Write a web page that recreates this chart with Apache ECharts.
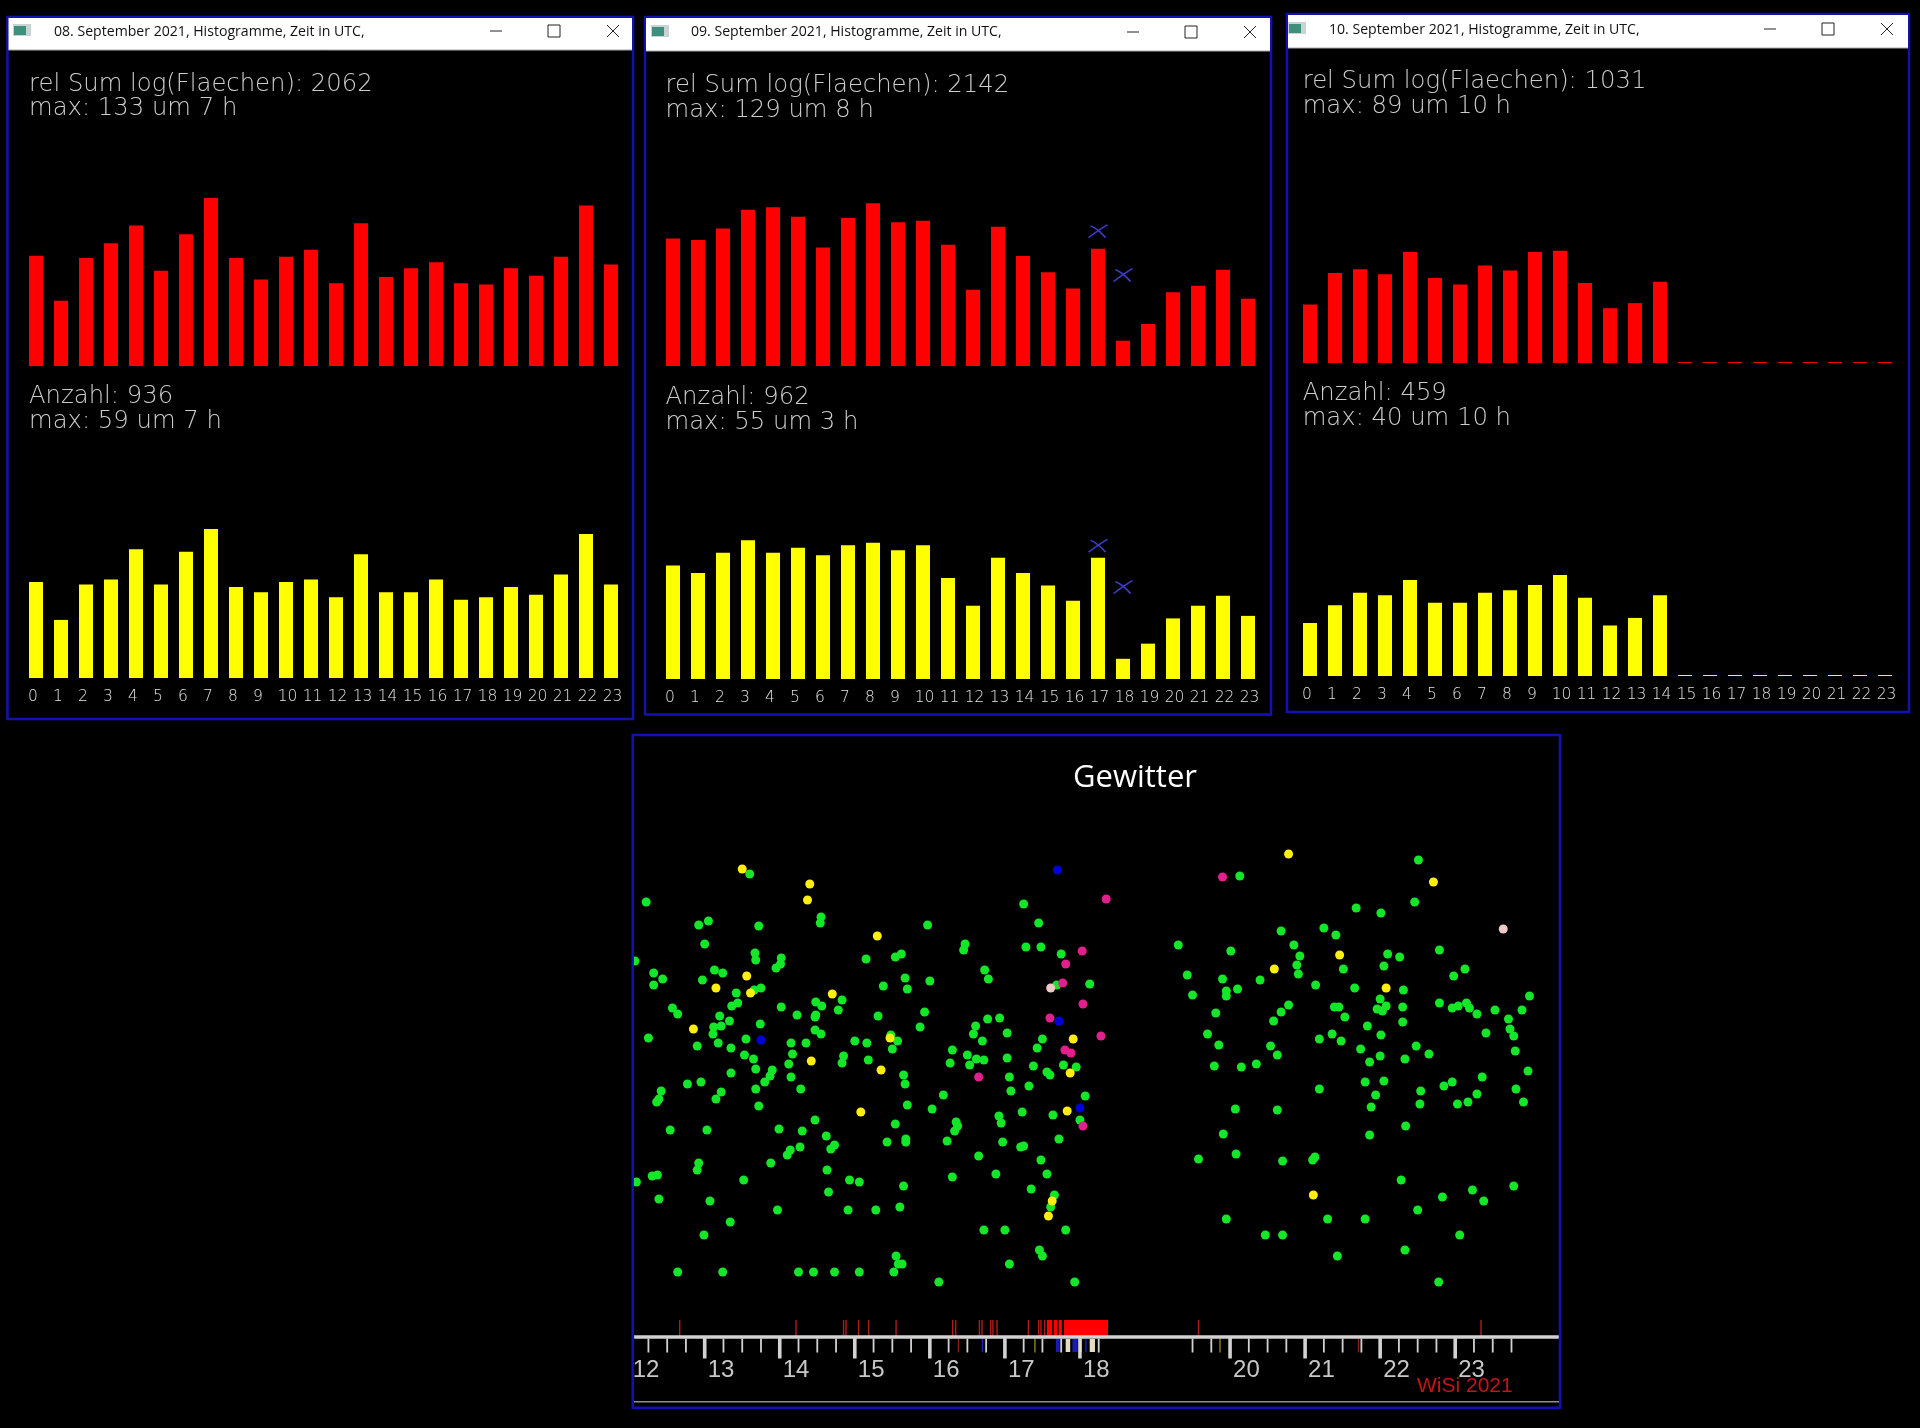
<!DOCTYPE html>
<html><head><meta charset="utf-8">
<style>html,body{margin:0;padding:0;background:#000}#c{width:1920px;height:1428px}</style>
<script src="https://cdn.jsdelivr.net/npm/echarts@6/dist/echarts.min.js"></script>
</head><body><div id="c"></div>
<script>
// ---------- histogram data ----------
const hours = ['0','1','2','3','4','5','6','7','8','9','10','11','12','13','14','15','16','17','18','19','20','21','22','23'];
const day08Flaechen = [87.3,51.6,85.5,97.3,111.3,75.5,104.3,133,85.5,68.5,86.6,92.1,65.6,113.1,70.4,77.4,82.2,65.6,64.5,77.4,71.5,86.6,127.1,80.3];
const day08Anzahl = [38,23,37,39,51,37,50,59,36,34,38,39,32,49,34,34,39,31,32,36,33,41,57,37];
const day09Flaechen = [100.9,99.8,109,123.8,125.7,118.3,93.9,117.2,129,113.9,115,96.1,60.3,110.2,87.2,74.3,61.4,92.8,20,33.3,58.4,63.6,76.2,53.2];
const day09Anzahl = [45,42,50,55,50,52,49,53,54,51,53,40,29,48,42,37,31,48,8,14,24,29,33,25];
const day09FlaechenCross = [[17,106.8],[18,72]];
const day09AnzahlCross = [[17,52.8],[18,36.4]];
const day10Flaechen = [46.3,71.3,74.3,70.2,87.9,67.3,62.2,77.2,73.2,87.9,89,63.3,43.4,47.4,64.4,0,0,0,0,0,0,0,0,0];
const day10Anzahl = [21,28,33,32,38,29,29,33,34,36,40,31,20,23,32,0,0,0,0,0,0,0,0,0];

// ---------- Gewitter scatter data: [hour UTC, level] ----------
const gewitterGreen = [
[12.22,435],[13.60,463],[12.92,412],[13.05,416],[13.72,411],[13.00,393],[13.67,384],[13.68,377],[14.02,379],[14.01,373],[13.95,369],[12.07,376],[12.32,364],[12.44,358],[12.32,352],[13.13,367],[13.24,364],[12.97,357],[13.75,349],[13.66,347],[13.42,344],[13.44,334],[13.36,331],[12.57,329],[12.64,323],[13.20,321],[13.33,316],[13.12,310],[13.22,311],[13.11,303],[13.74,313],[12.25,299],[12.90,291],[13.18,294],[13.35,289],[13.55,298],[13.53,282],[13.65,278],[14.15,294],[14.17,283],[14.02,330],[14.23,322],[14.48,335],[14.56,331],[14.83,337],[14.78,327],[14.48,322],[14.47,320],[14.47,307],[14.55,303],[14.35,294],[14.85,281],[14.55,420],[14.54,414],[15.15,378],[15.54,380],[15.62,383],[15.97,412],[15.67,359],[15.38,351],[15.70,348],[16.00,356],[15.31,321],[15.93,325],[15.87,310],[15.00,296],[15.16,294],[15.48,302],[15.57,296],[15.50,288],[16.47,393],[16.45,387],[16.73,367],[16.78,358],[17.25,433],[17.45,414],[17.28,390],[17.48,390],[17.75,383],[18.13,353],[17.69,352],[16.77,318],[16.93,319],[16.61,311],[16.58,303],[16.70,296],[17.03,304],[16.30,287],[16.50,282],[16.62,278],[17.03,279],[17.50,298],[17.43,289],
[14.12,273],[14.83,274],[15.18,277],[16.27,274],[16.53,272],[16.72,277],[17.38,271],[17.78,272],[17.95,270],[17.56,265],[17.60,262],[13.68,268],[13.90,267],[13.35,264],[13.87,261],[13.80,255],[14.15,260],[13.68,248],[14.28,248],[13.72,231],[12.77,253],[12.95,255],[12.42,246],[12.39,238],[12.36,235],[13.22,245],[13.15,238],[15.65,262],[15.67,253],[15.70,232],[16.03,228],[16.18,242],[17.06,260],[17.08,246],[17.32,251],[17.23,225],[18.07,241],[17.64,222],[18.00,217],[16.92,221],[16.95,214],[12.54,207],[13.03,207],[13.99,208],[14.30,206],[14.47,217],[15.54,213],[16.35,215],[16.37,211],[16.33,206],[16.23,196],[15.43,195],[15.68,198],[15.68,195],[16.97,195],[17.25,191],[17.21,190],[17.72,198],[14.62,201],[14.73,192],[14.68,188],[14.27,190],[14.14,187],[14.10,182],[13.88,174],[12.92,174],[12.90,167],[14.63,167],[16.65,181],[17.48,177],[16.88,163],[17.56,163],[16.30,160],[12.09,155],[12.30,161],[12.37,162],[13.52,157],[14.93,157],[15.06,155],[15.65,151],[17.35,148],[14.65,145],[17.66,142],[17.61,130],[12.39,138],[13.07,136],[13.97,127],[14.91,127],[15.28,127],[15.60,130],[13.34,115],[12.99,102],[16.72,107],[17.00,107],[17.81,107],[17.46,87],[17.50,81],[17.06,73],[15.55,81],[15.58,73],[15.63,73],[12.64,65],[13.24,65],[14.25,65],[14.45,65],[14.73,65],[15.06,65],[15.52,65],[16.12,55],[17.93,55],
[20.13,461],[22.51,477],[21.68,429],[22.01,424],[22.46,435],[19.31,392],[20.01,386],[20.68,406],[21.25,409],[21.41,402],[20.85,392],[20.93,381],[20.89,372],[20.91,363],[19.43,362],[19.90,358],[19.50,342],[19.95,346],[19.95,341],[20.10,348],[20.40,357],[21.14,352],[21.51,368],[22.10,383],[22.26,380],[22.05,371],[21.66,349],[22.31,347],[22.79,387],[23.13,368],[22.98,361],[22.00,338],[22.08,331],[21.96,328],[22.03,326],[22.30,330],[22.30,315],[21.39,330],[21.45,330],[21.53,320],[20.78,332],[20.68,325],[20.58,316],[19.81,324],[19.70,303],[19.85,292],[20.54,291],[20.63,282],[21.83,311],[22.01,302],[21.36,303],[21.48,296],[21.19,298],[21.74,288],[22.00,281],[22.48,291],[22.65,283],[22.33,278],[22.79,334],[22.96,329],[23.04,331],[23.15,334],[23.19,329],[23.29,323],[23.53,327],[23.71,318],[23.89,327],[23.99,341],[23.73,308],[23.78,301],[23.41,304],[23.80,286],
[19.79,271],[20.15,270],[20.35,273],[21.86,275],[23.97,266],[21.19,248],[21.80,255],[22.05,256],[21.94,242],[21.88,230],[22.54,246],[22.53,233],[22.85,251],[22.96,255],[23.36,260],[23.29,243],[23.17,235],[23.03,233],[23.81,248],[23.91,235],[20.07,228],[20.63,227],[19.91,203],[19.58,178],[20.08,183],[20.70,176],[21.10,177],[21.13,180],[21.86,202],[22.34,211],[22.28,157],[23.23,147],[23.78,151],[22.83,140],[23.38,136],[22.50,127],[19.95,118],[21.30,118],[21.80,118],[20.47,102],[20.70,102],[23.06,102],[22.33,87],[21.43,81],[22.78,55]];
const gewitterYellow = [[13.50,468],[14.40,453],[14.37,437],[15.30,401],[13.56,361],[13.15,349],[13.61,344],[14.70,343],[12.85,308],[15.47,299],[17.91,298],[14.42,276],[15.35,267],[17.87,264],[15.08,225],[17.83,226],[17.63,136],[17.58,121],[20.78,483],[22.71,455],[21.46,382],[20.59,368],[22.08,349],[21.11,142]];
const gewitterMagenta = [[18.35,438],[18.03,386],[17.81,373],[17.77,354],[18.04,333],[17.60,319],[18.28,301],[17.80,287],[17.88,284],[16.65,260],[18.04,211],[19.90,460]];
const gewitterBlue = [[17.70,467],[17.72,316],[13.75,297],[18.00,229]];
const gewitterPale = [[17.61,349],[23.64,408]];

// ---------- time strip data (hours UTC) ----------
const hourLabels = [12,13,14,15,16,17,18,20,21,22,23];
const majorTicks = [13,14,15,16,17,18,20,21,22,23];
const minorTicks = [12.25,12.5,12.75,13.25,13.5,13.75,14.25,14.5,14.75,15.25,15.5,15.75,16.25,16.5,16.75,17.25,17.5,17.75,18.25,19.5,19.75,20.25,20.5,20.75,21.25,21.5,21.75,22.25,22.5,22.75,23.25,23.5,23.75];
const redStrokes = [12.667,14.217,14.85,14.883,15.05,15.185,15.55,16.304,16.344,16.66,16.695,16.81,16.84,16.895,17.313,17.45,17.48,17.53,19.58,23.344];
const redSpans = [[17.56,17.63],[17.65,17.695],[17.717,17.76],[17.788,18.374]];
const blueSpans = [[16.69,16.71],[17.68,17.73],[17.90,17.97],[18.07,18.09]];
const paleSpans = [[17.81,17.87],[18.0,18.02],[18.13,18.2]];
const dimYellowTicks = [17.40,19.866];
const dimRedTicks = [16.38,21.71];
const axisSpan = [12.06,24.39];

// ---------- layout ----------
const panels = [
 {date:'08', sum:'2062', sumMax:'max: 133 um 7 h', count:'936', countMax:'max: 59 um 7 h', red:day08Flaechen, yellow:day08Anzahl,
  left:23.5, redBase:366, yelBase:678, box:[7.5,17,633,719], bar:[8.5,18,632,50], tx:29, ty:[84.5,109,396.5,421.5], titleX:54, titleY:31.5, icon:[13,24], win:[490,548,607], winY:31},
 {date:'09', sum:'2142', sumMax:'max: 129 um 8 h', count:'962', countMax:'max: 55 um 3 h', red:day09Flaechen, yellow:day09Anzahl,
  left:660.5, redBase:366, yelBase:679, box:[645,17,1271,714.5], bar:[646,18,1270,51], tx:665.5, ty:[85.5,110.5,397.5,422.5], titleX:691, titleY:32, icon:[651,25], win:[1127,1185,1244], winY:32},
 {date:'10', sum:'1031', sumMax:'max: 89 um 10 h', count:'459', countMax:'max: 40 um 10 h', red:day10Flaechen, yellow:day10Anzahl,
  left:1297.5, redBase:363, yelBase:676, box:[1287,14,1909,712], bar:[1288,15,1908,48], tx:1302.7, ty:[82,107,394,419], titleX:1329, titleY:29.5, icon:[1288,22], win:[1764,1822,1881], winY:29}
];
const H = 202;
const textFont = '200 24.3px "DejaVu Sans"';
const grey = '#cccccc';
const grid=[], xAxis=[], yAxis=[], series=[], graphic=[];

function txt(x,y,text,font,fill,extra){graphic.push({type:'text',z:60,x,y,style:Object.assign({text,font,fill,textVerticalAlign:'middle',textAlign:'left'},extra||{})});}
function rect(x0,y0,x1,y1,style){graphic.push({type:'rect',z:style.z||55,shape:{x:x0,y:y0,width:x1-x0,height:y1-y0},style});}
function line(x0,y0,x1,y1,stroke,w){graphic.push({type:'line',z:60,shape:{x1:x0,y1:y0,x2:x1,y2:y1},style:{stroke,lineWidth:w}});}

panels.forEach((p,i)=>{
  const gi=grid.length;
  grid.push({left:p.left,width:600,top:p.redBase-H,height:H,outerBoundsMode:'none'});
  grid.push({left:p.left,width:600,top:p.yelBase-H,height:H,outerBoundsMode:'none'});
  xAxis.push({gridIndex:gi,type:'category',data:hours,show:false});
  const lab={color:'#e2e2e2',fontFamily:'DejaVu Sans',fontSize:15.5,fontWeight:200};
  xAxis.push({gridIndex:gi+1,type:'category',data:hours,axisLine:{show:false},axisTick:{show:false},
    axisLabel:Object.assign({interval:0,margin:19,verticalAlign:'middle',
      formatter:v=>v.length===1?`{s|${v}}`:`{d|${v}}`,
      rich:{s:Object.assign({padding:[0,6,0,0]},lab),d:Object.assign({padding:[0,0,0,3]},lab)}},lab)});
  yAxis.push({gridIndex:gi,type:'value',min:0,max:160,show:false});
  yAxis.push({gridIndex:gi+1,type:'value',min:0,max:80,show:false});
  series.push({type:'bar',xAxisIndex:gi,yAxisIndex:gi,data:p.red,barWidth:14,barMinHeight:1,itemStyle:{color:'#ff0000'},silent:true});
  series.push({type:'bar',xAxisIndex:gi+1,yAxisIndex:gi+1,data:p.yellow,barWidth:14,barMinHeight:1,itemStyle:{color:'#ffff00'},silent:true});

  rect(p.box[0],p.box[1],p.box[2],p.box[3],{fill:'none',stroke:'#1212b4',lineWidth:2.5});
  rect(p.bar[0],p.bar[1],p.bar[2],p.bar[3],{fill:'#ffffff'});
  line(p.bar[0],p.bar[3],p.bar[2],p.bar[3],'#a8a8a8',1);
  rect(p.icon[0],p.icon[1],p.icon[0]+18,p.icon[1]+12,{fill:'#c9d3d3',z:61});
  rect(p.icon[0]+1,p.icon[1]+2,p.icon[0]+13,p.icon[1]+11,{fill:'#3f8f7d',z:62});
  txt(p.titleX,p.titleY,p.date+'. September 2021, Histogramme, Zeit in UTC,','14.1px "Open Sans"','#111111');
  const wy=p.winY;
  line(p.win[0],wy,p.win[0]+12,wy,'#222222',1);
  rect(p.win[1],wy-6,p.win[1]+12,wy+6,{fill:'none',stroke:'#222222',lineWidth:1,z:61});
  line(p.win[2],wy-6,p.win[2]+12,wy+6,'#222222',1);
  line(p.win[2],wy+6,p.win[2]+12,wy-6,'#222222',1);
  txt(p.tx,p.ty[0],'rel Sum log(Flaechen): '+p.sum,textFont,grey);
  txt(p.tx,p.ty[1],p.sumMax,textFont,grey);
  txt(p.tx,p.ty[2],'Anzahl: '+p.count,textFont,grey);
  txt(p.tx,p.ty[3],p.countMax,textFont,grey);
  p.gi=gi;
});

// blue crosses on the 09 September panel
const crossPath='path://M0,12 C6,8 12,4 20,0 M2,1 C8,3 14,8 18,12';
const crossStyle={color:'rgba(0,0,0,0)',borderColor:'#3c3cc8',borderWidth:1.6,opacity:1};
series.push({type:'scatter',xAxisIndex:panels[1].gi,yAxisIndex:panels[1].gi,data:day09FlaechenCross,symbol:crossPath,symbolSize:[19,13],itemStyle:crossStyle,silent:true,z:5});
series.push({type:'scatter',xAxisIndex:panels[1].gi+1,yAxisIndex:panels[1].gi+1,data:day09AnzahlCross,symbol:crossPath,symbolSize:[19,13],itemStyle:crossStyle,silent:true,z:5});

// Gewitter panel: grid bottom is the level-0 time axis
const g=grid.length;
const BASE=1337, perHour=75.05;
grid.push({left:704.7-perHour,width:perHour*13,top:BASE-600,height:600,outerBoundsMode:'none'});
xAxis.push({gridIndex:g,type:'value',min:12,max:25,interval:1,splitLine:{show:false},axisTick:{show:false},
  axisLine:{show:false},
  axisLabel:{align:'left',margin:21,padding:[0,0,0,3],verticalAlign:'top',color:'#c8c8c8',fontFamily:'Liberation Sans',fontSize:24,
    showMinLabel:true,formatter:v=>hourLabels.includes(v)?String(v):''}});
yAxis.push({gridIndex:g,type:'value',min:0,max:600,show:false});
const base={xAxisIndex:g,yAxisIndex:g,silent:true};
function dots(data,color,z){series.push(Object.assign({type:'scatter',data,symbol:'circle',symbolSize:9,itemStyle:{color,opacity:1},z},base));}
dots(gewitterGreen,'#14e628',3);
dots(gewitterYellow,'#ffee10',4);
dots(gewitterMagenta,'#e0208c',4);
dots(gewitterBlue,'#0000d8',4);
dots(gewitterPale,'#f0c8c8',4);
function ticks(list,color,w,h,lvl,z){series.push(Object.assign({type:'scatter',clip:false,data:list.map(t=>[t,lvl]),symbol:'rect',symbolSize:[w,h],itemStyle:{color,opacity:1},z},base));}
function spans(list,color,y0,y1,z){series.push(Object.assign({type:'custom',data:list,z,clip:false,
  renderItem:(params,api)=>{const a=api.coord([api.value(0),y1]),b=api.coord([api.value(1),y0]);
    return {type:'rect',shape:{x:a[0],y:a[1],width:Math.max(b[0]-a[0],1.2),height:b[1]-a[1]},style:{fill:color}};},
  encode:{x:[0,1]}},base));}
series.push(Object.assign({type:'line',data:axisSpan.map(h=>[h,0]),symbol:'none',clip:false,lineStyle:{color:'#d2d2d2',width:3.5},z:8},base));
ticks(minorTicks,'#d2d2d2',1.8,14,-8.5,6);
ticks(majorTicks,'#d2d2d2',3.6,21,-11,6);
ticks(dimYellowTicks,'#a09a28',1.2,14,-8.5,7);
ticks(dimRedTicks,'#8c2020',1.2,14,-8.5,7);
spans(blueSpans,'#1a1ab4',-15,-2,7);
spans(paleSpans,'#e8dcc0',-15,-2,7);
ticks(redStrokes,'#b01c1c',1.4,16,9,7);
spans(redSpans,'#ff0000',1,17,7);

rect(620,736,632,1320,{fill:'#000000',z:50});
rect(632.7,735,1560,1407.7,{fill:'none',stroke:'#1212b4',lineWidth:2.5});
line(634,1401.7,1559,1401.7,'#8e8e8e',1.5);
txt(1073,778,'Gewitter','31px "Open Sans"','#ffffff');
txt(1417,1386,'WiSi 2021','21px "Liberation Sans"','#c81414');

const chart=echarts.init(document.getElementById('c'),null,{renderer:'canvas',width:1920,height:1428});
chart.setOption({backgroundColor:'#000000',animation:false,tooltip:{show:false},grid,xAxis,yAxis,series,graphic});
</script></body></html>
